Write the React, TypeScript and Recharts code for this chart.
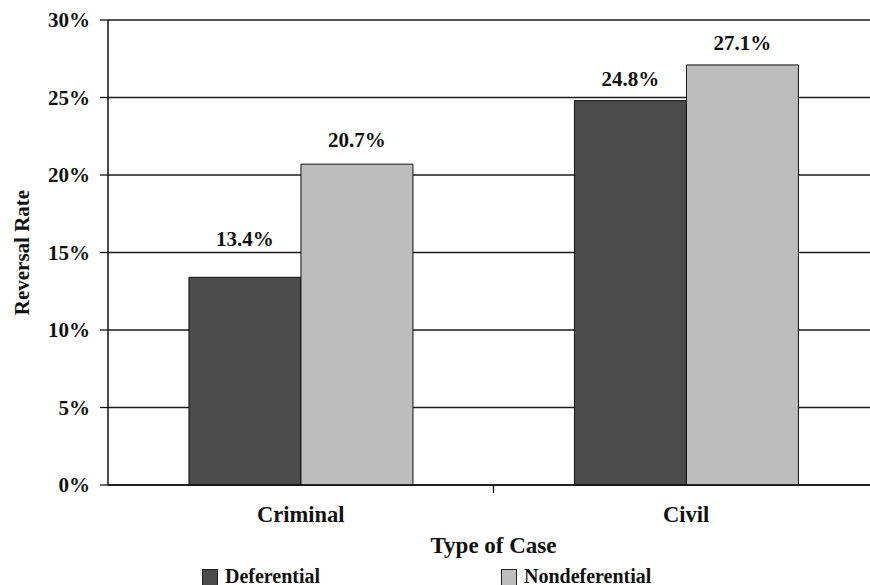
import React from 'react';
import { BarChart, Bar, XAxis, YAxis, CartesianGrid, LabelList, Legend } from 'recharts';

const categories = ['Criminal', 'Civil'];
const deferential = [13.4, 24.8];
const nondeferential = [20.7, 27.1];
const yTicks = [0, 5, 10, 15, 20, 25, 30];

const data = categories.map((c, i) => ({ name: c, Deferential: deferential[i], Nondeferential: nondeferential[i] }));

const FONT = 'Liberation Serif, Times New Roman, serif';
const DARK = '#4b4b4b';
const LIGHT = '#bdbdbd';
const LABEL_OFFSETS: Record<string, number[]> = { Deferential: [31, 15], Nondeferential: [17, 15] };

const makeLabel = (series: string) => (props: any) => {
  const { x, y, width, value, index } = props;
  const off = LABEL_OFFSETS[series][index] ?? 15;
  return (
    <text x={Number(x) + Number(width) / 2} y={Number(y) - off} textAnchor="middle" fontFamily={FONT} fontWeight="bold" fontSize={21} fill="#111">
      {`${Number(value).toFixed(1)}%`}
    </text>
  );
};

const XTick = (props: any) => {
  const { x, y, payload, index } = props;
  const half = payload && payload.offset ? payload.offset : 193;
  return (
    <g>
      <text x={x} y={y + 29} textAnchor="middle" fontFamily={FONT} fontWeight="bold" fontSize={22.5} fill="#111">
        {payload.value}
      </text>
      {index === 0 ? <line x1={x + half} x2={x + half} y1={485} y2={493} stroke="#111" strokeWidth={1.3} /> : null}
    </g>
  );
};

const LegendContent = () => (
  <div style={{ position: 'relative', width: 870, height: 20, fontFamily: FONT, fontWeight: 'bold', fontSize: 20, color: '#111' }}>
    {[
      { name: 'Deferential', color: DARK, left: 202 },
      { name: 'Nondeferential', color: LIGHT, left: 501 },
    ].map((it) => (
      <div key={it.name} style={{ position: 'absolute', left: it.left, top: 0, display: 'flex', alignItems: 'flex-start' }}>
        <div style={{ width: 14, height: 15, background: it.color, border: '1px solid #222', marginTop: 3 }} />
        <span style={{ marginLeft: 7, lineHeight: '20px' }}>{it.name}</span>
      </div>
    ))}
  </div>
);

const YLabel = (props: any) => {
  const vb = props.viewBox || {};
  const cy = (vb.y ?? 20) + (vb.height ?? 465) / 2;
  return (
    <text x={22} y={cy} transform={`rotate(-90 22 ${cy})`} textAnchor="middle" dominantBaseline="central" fontFamily={FONT} fontWeight="bold" fontSize={21} fill="#111">
      Reversal Rate
    </text>
  );
};

export default function App() {
  return (
    <div style={{ position: 'absolute', left: 0, top: 0, width: 870, height: 585, overflow: 'hidden', background: '#fff' }}>
      <BarChart width={880} height={585} data={data} margin={{ top: 20, right: 1, left: 0, bottom: 25 }} barCategoryGap="21%" barGap={0}>
        <CartesianGrid vertical={false} stroke="#1a1a1a" strokeWidth={1.3} />
        <XAxis
          dataKey="name"
          height={75}
          axisLine={{ stroke: '#111', strokeWidth: 1.5 }}
          tickLine={false}
          tick={<XTick />}
          interval={0}
          label={{ value: 'Type of Case', position: 'insideBottom', offset: 7, fontFamily: FONT, fontWeight: 'bold', fontSize: 23, fill: '#111' }}
        />
        <YAxis
          width={108}
          domain={[0, 30]}
          ticks={yTicks}
          tickFormatter={(v: number) => `${v}%`}
          axisLine={{ stroke: '#111', strokeWidth: 1.5 }}
          tickLine={{ stroke: '#111', strokeWidth: 1.3 }}
          tickSize={8}
          tickMargin={10}
          tick={{ fontFamily: FONT, fontWeight: 'bold', fontSize: 21, fill: '#111' }}
          label={<YLabel />}
        />
        <Legend layout="horizontal" verticalAlign="middle" content={<LegendContent />} wrapperStyle={{ position: 'absolute', top: 566, left: 0, width: 870 }} />
        <Bar dataKey="Deferential" fill={DARK} stroke="#111" strokeWidth={1} isAnimationActive={false}>
          <LabelList dataKey="Deferential" content={makeLabel('Deferential')} />
        </Bar>
        <Bar dataKey="Nondeferential" fill={LIGHT} stroke="#111" strokeWidth={1} isAnimationActive={false}>
          <LabelList dataKey="Nondeferential" content={makeLabel('Nondeferential')} />
        </Bar>
      </BarChart>
    </div>
  );
}
